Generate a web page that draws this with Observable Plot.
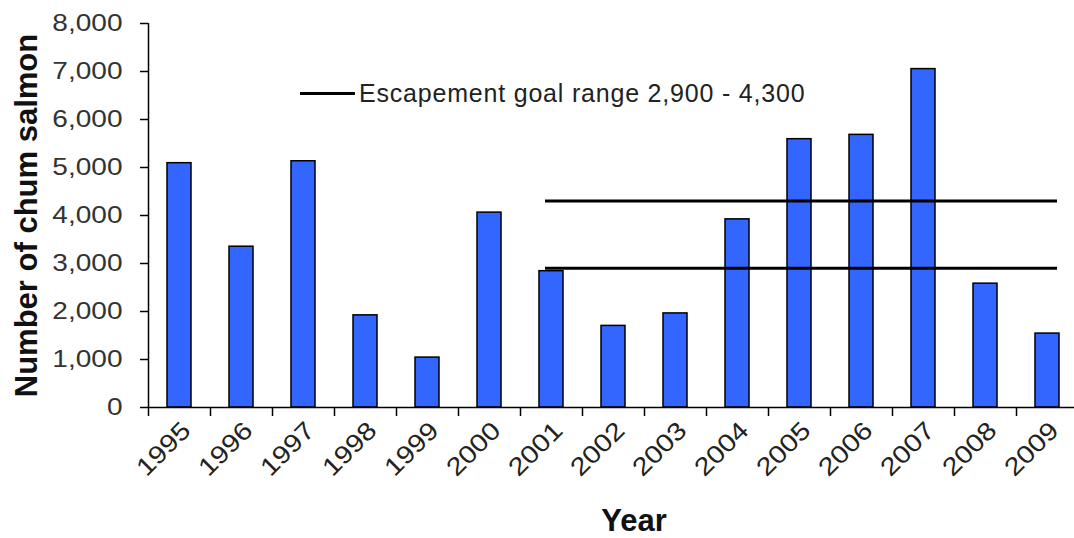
<!DOCTYPE html>
<html>
<head>
<meta charset="utf-8">
<script src="https://cdn.jsdelivr.net/npm/d3@7"></script>
<script src="https://cdn.jsdelivr.net/npm/@observablehq/plot@0.6"></script>
<style>
  html, body { margin: 0; padding: 0; background: #fff; }
  #wrap { position: relative; width: 1074px; height: 538px; overflow: hidden; font-family: "Liberation Sans", Arial, sans-serif; }
  #legend { position: absolute; left: 300px; top: 79px; display: flex; align-items: center; font-size: 25px; color: #222; letter-spacing: 0.8px; }
  #legend .sw { width: 55px; height: 3px; background: #000; margin-right: 4px; }
</style>
</head>
<body>
<div id="wrap"><div id="legend"><div class="sw"></div><span id="legtext"></span></div></div>
<script>
const years = ["1995","1996","1997","1998","1999","2000","2001","2002","2003","2004","2005","2006","2007","2008","2009"];
const counts = [5090, 3350, 5130, 1920, 1040, 4060, 2840, 1700, 1960, 3920, 5590, 5680, 7050, 2580, 1540];
const goalValues = [2900, 4300];
const goalStart = "2001";
const goalEnd = "2009";
const legendLabel = "Escapement goal range 2,900 - 4,300";
const yTicks = [0, 1000, 2000, 3000, 4000, 5000, 6000, 7000, 8000];
const yTitle = "Number of chum salmon";
const xTitle = "Year";

const data = years.map((y, i) => ({year: y, count: counts[i]}));
document.getElementById("legtext").textContent = legendLabel;

const chart = Plot.plot({
  width: 1074,
  height: 538,
  marginLeft: 148,
  marginRight: -5,
  marginTop: 23,
  marginBottom: 131,
  style: {fontFamily: "Liberation Sans, Arial, sans-serif", background: "#fff", overflow: "visible"},
  x: {domain: years, paddingInner: 0.61, paddingOuter: 0.305},
  y: {domain: [0, 8000]},
  marks: [
    Plot.barY(data, {x: "year", y: "count", fill: "#3366ff", stroke: "#000", strokeWidth: 1.5}),
    Plot.ruleY(goalValues, {y: d => d, x1: () => goalStart, x2: () => goalEnd, insetLeft: 6, insetRight: 2, stroke: "#000", strokeWidth: 3}),
    Plot.ruleY([0], {stroke: "#000", strokeWidth: 1.5}),
    Plot.ruleX([years[0]], {dx: -31, stroke: "#000", strokeWidth: 1.5}),
    Plot.axisY({ticks: yTicks, tickFormat: d3.format(","), tickSize: 8, tickPadding: 18, fontSize: 23, color: "#333", stroke: "#000", strokeWidth: 1.5,
      label: yTitle, labelAnchor: "center", labelOffset: 134, labelArrow: "none"}),
    Plot.axisX({tickSize: 9, dx: -31, text: null, stroke: "#000", strokeWidth: 1.5, label: null}),
    Plot.axisX({tickSize: 0, tickRotate: -45, textAnchor: "end", fontSize: 25, fill: "#222", dx: 7, dy: 7, label: null}),
    Plot.text([xTitle], {frameAnchor: "bottom", dy: 123, dx: 20, fontSize: 31, fontWeight: "bold", fill: "#111"})
  ]
});
document.getElementById("wrap").prepend(chart);
// y axis title styling
chart.querySelectorAll("g[aria-label='y-axis label'] text").forEach(t => {
  t.setAttribute("font-size", "31"); t.setAttribute("font-weight", "bold"); t.setAttribute("fill", "#111");
});
// horizontally widen tick label glyphs (the reference's text is stretched)
function widen(sel, s) {
  chart.querySelectorAll(sel).forEach(t => {
    const tr = t.getAttribute("transform") || "";
    t.setAttribute("transform", tr + ` scale(${s},1)`);
  });
}
widen("g[aria-label='y-axis tick label'] text", 1.22);
widen("g[aria-label='x-axis tick label'] text", 1.16);
</script>
</body>
</html>
